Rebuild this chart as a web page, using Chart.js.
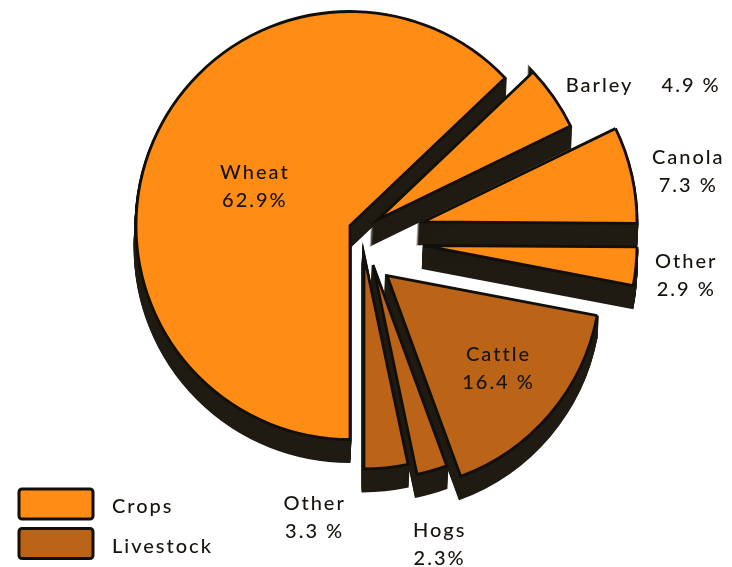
<!DOCTYPE html>
<html>
<head>
<meta charset="utf-8">
<script src="https://cdn.jsdelivr.net/npm/chart.js@4.4.1/dist/chart.umd.min.js"></script>
<style>
  html, body { margin: 0; padding: 0; background: #fff; }
  canvas { display: block; }
</style>
</head>
<body>
<canvas id="pie" width="732" height="567"></canvas>
<script>
// data
const categories = ["Wheat", "Barley", "Canola", "Other", "Cattle", "Hogs", "Other"];
const shares = [62.9, 4.9, 7.3, 2.9, 16.4, 2.3, 3.3];
const shareLabels = ["62.9%", "4.9 %", "7.3 %", "2.9 %", "16.4 %", "2.3%", "3.3 %"];
const groupOf = [0, 0, 0, 0, 1, 1, 1];
const groups = ["Crops", "Livestock"];

// look
const groupColors = ["#ff8c14", "#bb6418"];
const outline = "#120f0a";
const textColor = "#17130d";
const shadowColor = "#1f1b12";
const shadowShift = { x: -1, y: 22 };
const fontFamily = "Lato, 'DejaVu Sans', sans-serif";

// how far each slice is pulled out of the pie (px)
const explodeDx = [0, 28, 73, 73, 37, 23, 14];
const explodeDy = [0, -6, -3.5, 20, 50, 39.5, 29.5];

// label placement: distance from the slice tip, and turn from its middle angle (deg)
const labelDist = [103, 297, 270, 265, 145, 287, 267];
const labelTurn = [-0.7, 8, 2, 1, -0.6, 2.6, 16.6];
const labelInline = [false, true, false, false, false, false, false];

const explodePlugin = {
  id: "explode",
  afterDatasetsUpdate(chart) {
    chart.getDatasetMeta(0).data.forEach((arc, i) => {
      arc.x += explodeDx[i];
      arc.y += explodeDy[i];
    });
  },
};

// dark extruded side under every slice
const shadowPlugin = {
  id: "shadow",
  beforeDatasetsDraw(chart) {
    const ctx = chart.ctx;
    const steps = Math.ceil(Math.abs(shadowShift.y));
    chart.getDatasetMeta(0).data.forEach((arc) => {
      const ghost = Object.create(arc);
      ghost.options = Object.assign({}, arc.options, {
        backgroundColor: shadowColor,
        borderColor: shadowColor,
      });
      for (let k = 1; k <= steps; k++) {
        ctx.save();
        ctx.translate((shadowShift.x * k) / steps, (shadowShift.y * k) / steps);
        arc.draw.call(ghost, ctx);
        ctx.restore();
      }
    });
  },
};

const labelPlugin = {
  id: "sliceLabels",
  afterDatasetsDraw(chart) {
    const ctx = chart.ctx;
    ctx.save();
    ctx.font = `500 20px ${fontFamily}`;
    ctx.letterSpacing = "2px";
    ctx.fillStyle = textColor;
    ctx.textAlign = "center";
    ctx.textBaseline = "middle";
    chart.getDatasetMeta(0).data.forEach((arc, i) => {
      const mid = (arc.startAngle + arc.endAngle) / 2 + (labelTurn[i] * Math.PI) / 180;
      const x = arc.x + Math.cos(mid) * labelDist[i];
      const y = arc.y + Math.sin(mid) * labelDist[i];
      const lines = labelInline[i]
        ? [categories[i] + "    " + shareLabels[i]]
        : [categories[i], shareLabels[i]];
      lines.forEach((t, j) => {
        ctx.fillText(t, x, y + (j - (lines.length - 1) / 2) * 28);
      });
    });
    ctx.restore();
  },
};

const legendPlugin = {
  id: "groupLegend",
  afterDraw(chart) {
    const ctx = chart.ctx;
    ctx.save();
    groups.forEach((g, i) => {
      const left = 19;
      const top = 489 + i * 39.5;
      ctx.beginPath();
      ctx.roundRect(left, top, 74, 30, 3);
      ctx.fillStyle = groupColors[i];
      ctx.fill();
      ctx.lineWidth = 3;
      ctx.strokeStyle = outline;
      ctx.stroke();

      ctx.font = `500 20px ${fontFamily}`;
      ctx.letterSpacing = "2px";
      ctx.fillStyle = textColor;
      ctx.textAlign = "left";
      ctx.textBaseline = "middle";
      ctx.fillText(g, left + 93, top + 18);
    });
    ctx.restore();
  },
};

new Chart(document.getElementById("pie"), {
  type: "pie",
  data: {
    labels: categories,
    datasets: [
      {
        data: shares,
        backgroundColor: groupOf.map((g) => groupColors[g]),
        borderColor: outline,
        borderWidth: 2.8,
        borderJoinStyle: "miter",
      },
    ],
  },
  options: {
    responsive: false,
    animation: false,
    events: [],
    rotation: 180,
    radius: 214,
    layout: { padding: { left: 0, right: 32, top: 0, bottom: 116 } },
    plugins: {
      legend: { display: false },
      tooltip: { enabled: false },
    },
  },
  plugins: [explodePlugin, shadowPlugin, labelPlugin, legendPlugin],
});
</script>
</body>
</html>
